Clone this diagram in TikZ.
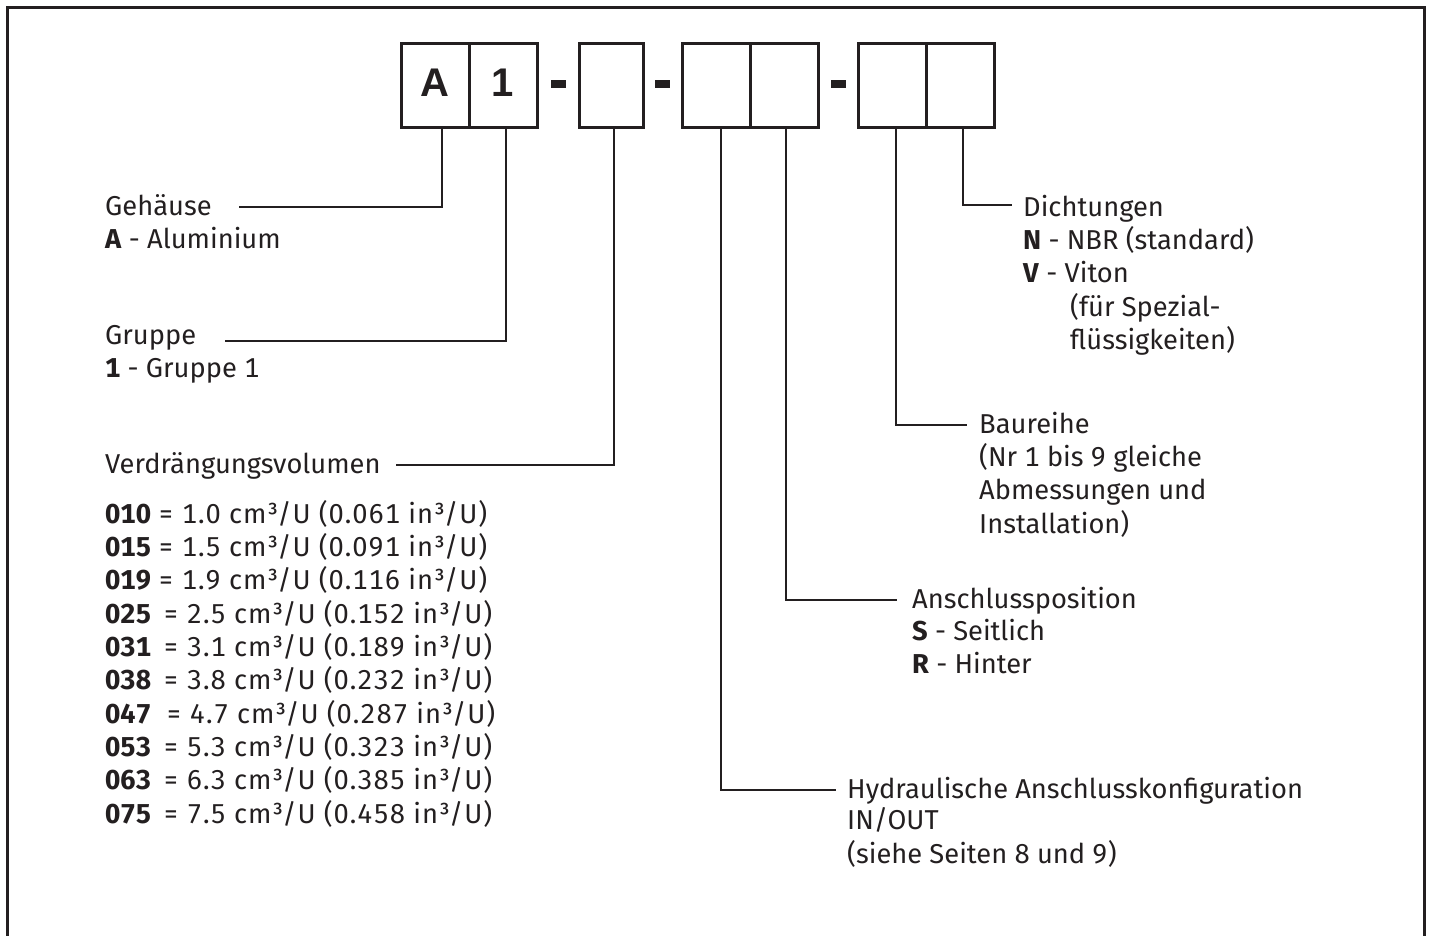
\documentclass[tikz,border=0pt]{standalone}
\usepackage{fontspec}
\setmainfont{Fira Sans}[Numbers={Monospaced,Lining}]
\newfontfamily\cellfont{Liberation Sans}
\usetikzlibrary{positioning}
\definecolor{ink}{HTML}{231F20}

\begin{document}
\begin{tikzpicture}[
  x=1pt, y=-1pt,
  font=\fontsize{27.3}{33.5}\selectfont,
  color=ink,
  frame/.style={line width=3pt},
  cell/.style={draw, line width=3pt, outer sep=0pt, inner sep=0pt,
               minimum width=68pt, minimum height=84pt, text depth=7pt,
               font=\fontsize{40}{40}\selectfont\cellfont\bfseries},
  dashbar/.style={fill, inner sep=0pt, minimum width=15pt, minimum height=8pt},
  head/.style={anchor=base west, inner sep=0pt, text height=20pt, text depth=4pt},
  body/.style={anchor=north west, inner sep=0pt, align=left,
               execute at begin node=\strut, yshift=23.45pt},
  link/.style={line width=2.6pt},
]
  \path[use as bounding box] (0,0) rectangle (1431,936);
  \draw[frame] (7.5,950) -- (7.5,7.5) -- (1424.5,7.5) -- (1424.5,950);

  % code boxes
  \node[cell] (ga) at (435,86) {A};
  \node[cell, right=0pt of ga] (gb) {1};
  \node[dashbar] (d1) at (558.5,84) {};
  \node[cell, minimum width=64pt] (vol) at (611,86) {};
  \node[dashbar] (d2) at (662.5,84) {};
  \node[cell] (ca) at (716,86) {};
  \node[cell, right=0pt of ca] (cb) {};
  \node[dashbar] (d3) at (838.5,84) {};
  \node[cell] (da) at (892,86) {};
  \node[cell, right=0pt of da] (db) {};

  % left column
  \node[head] (gehaeuse) at (105,215) {Gehäuse};
  \node[body] (alu) at (105,248) {\textbf{A} - Aluminium};
  \node[head] (gruppe) at (105,344) {Gruppe};
  \node[body] (grp1) at (105,377) {\textbf{1} - Gruppe 1};
  \node[head] (verdr) at (105,473) {Verdrängungsvolumen};
  \foreach \vcode/\vcm/\vin/\vgap [count=\i from 0] in
    {010/1.0/0.061/0, 015/1.5/0.091/0, 019/1.9/0.116/0,
     025/2.5/0.152/5, 031/3.1/0.189/5, 038/3.8/0.232/5,
     047/4.7/0.287/8, 053/5.3/0.323/5, 063/6.3/0.385/5,
     075/7.5/0.458/5} {
    \node[body] (v\vcode) at (105,523+33.33*\i)
      {\textbf{\vcode}\hspace{\vgap pt}
       {\addfontfeature{LetterSpace=3.5}= \vcm{} cm³/U (\vin{} in³/U)}};
  }

  % right column
  \node[head] (dicht) at (1023,216) {Dichtungen};
  \node[body] (dichtopt) at (1023,249.5)
    {\textbf{N} - NBR (standard)\\\textbf{V} - Viton\\
     \hspace*{47pt}(für Spezial-\\\hspace*{47pt}flüssigkeiten)};
  \node[head] (baur) at (979,433) {Baureihe};
  \node[body] (bauropt) at (979,466.5)
    {(Nr 1 bis 9 gleiche\\Abmessungen und\\Installation)};
  \node[head] (anschl) at (912,608) {Anschlussposition};
  \node[body] (anschlopt) at (912,642) {\textbf{S} - Seitlich\\\textbf{R} - Hinter};
  \node[head] (hydr) at (847,798) {Hydraulische Anschlusskonfiguration};
  \node[body] (hydropt) at (847,831) {IN/OUT\\(siehe Seiten 8 und 9)};

  % connectors
  \draw[link, shorten >=27pt] ([xshift=7pt]ga.south) |- (gehaeuse);
  \draw[link, shorten >=29pt] ([xshift=3pt]gb.south) |- ([yshift=-5pt]gruppe.east);
  \draw[link, shorten >=15pt] ([xshift=3pt]vol.south) |- (verdr);
  \draw[link, shorten >=11pt] ([xshift=5pt]ca.south) |- (hydr);
  \draw[link, shorten >=15pt] ([xshift=2pt]cb.south) |- (anschl);
  \draw[link, shorten >=12pt] ([xshift=4pt]da.south) |- (baur);
  \draw[link, shorten >=11pt] ([xshift=3pt]db.south) |- ([yshift=3pt]dicht.west);
\end{tikzpicture}
\end{document}
